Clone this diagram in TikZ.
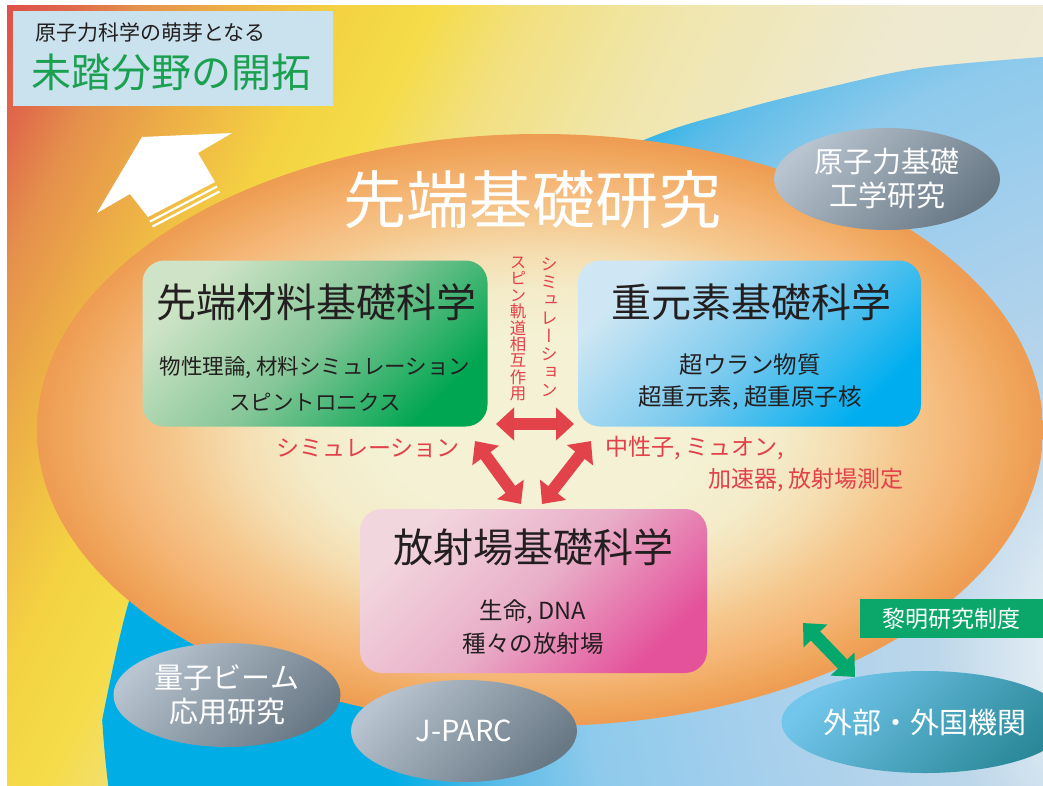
\documentclass[tikz,border=0pt]{standalone}
\usepackage{fontspec}
\setmainfont{Noto Sans CJK JP}
\newfontfamily\vfont[RawFeature=+vert]{Noto Sans CJK JP}
\usepackage{graphicx}
\usetikzlibrary{shapes.geometric,arrows.meta}

\definecolor{ink}{HTML}{231F20}
\definecolor{tgreen}{HTML}{1AA050}
\definecolor{tbox}{HTML}{C9E2EE}
\definecolor{lab}{HTML}{E2404A}
\definecolor{arr}{HTML}{E2434B}
\definecolor{garr}{HTML}{05A86C}
\definecolor{gbox}{HTML}{0AA66A}
% background
\definecolor{bgA}{HTML}{DD5049}
\definecolor{bgB}{HTML}{E06A4A}
\definecolor{bgC}{HTML}{E5904C}
\definecolor{bgD}{HTML}{EDB046}
\definecolor{bgE}{HTML}{F4D242}
\definecolor{bgF}{HTML}{F5DC48}
\definecolor{bgG}{HTML}{F2E080}
\definecolor{bgH}{HTML}{F0E6AC}
\definecolor{bgI}{HTML}{EEE9CF}
\definecolor{bgJ}{HTML}{EEEBDD}
% blue
\definecolor{blA}{HTML}{EEF2F5}
\definecolor{blB}{HTML}{E2ECF3}
\definecolor{blC}{HTML}{BDD7EA}
\definecolor{blD}{HTML}{A8D0EC}
\definecolor{blE}{HTML}{8ECAEC}
\definecolor{blF}{HTML}{5CBCE8}
\definecolor{blG}{HTML}{28B2E6}
\definecolor{blH}{HTML}{00AEE5}
% ellipse
\definecolor{eA}{HTML}{F4F1D4}
\definecolor{eB}{HTML}{F4EBC8}
\definecolor{eC}{HTML}{F5DDB0}
\definecolor{eD}{HTML}{F5C88E}
\definecolor{eE}{HTML}{F5B676}
\definecolor{eF}{HTML}{F0A65C}
\definecolor{eG}{HTML}{EE9C52}
% boxes
\definecolor{grA}{HTML}{CFE4C6}
\definecolor{grM}{HTML}{86C698}
\definecolor{grB}{HTML}{00A651}
\definecolor{buA}{HTML}{CFE7F4}
\definecolor{buM}{HTML}{7CCAEE}
\definecolor{buB}{HTML}{00AEEF}
\definecolor{pkA}{HTML}{F2D6DE}
\definecolor{pkM}{HTML}{E9AFC8}
\definecolor{pkB}{HTML}{E4529C}
\definecolor{gyA}{HTML}{B8C4D0}
\definecolor{gyB}{HTML}{687884}
\definecolor{tlA}{HTML}{72C6EC}
\definecolor{tlB}{HTML}{2A8898}

\pgfdeclarehorizontalshading{bggrad}{100bp}{color(0bp)=(bgA); color(25bp)=(bgA); color(27.3bp)=(bgB); color(29.5bp)=(bgC); color(32.8bp)=(bgD); color(36.6bp)=(bgE); color(39.7bp)=(bgF); color(43.2bp)=(bgG); color(48.3bp)=(bgH); color(56bp)=(bgI); color(75bp)=(bgJ); color(100bp)=(bgJ)}
\pgfdeclareradialshading{bluesh}{\pgfpoint{0bp}{0bp}}{color(0bp)=(blA); color(3.5bp)=(blB); color(6bp)=(blC); color(10bp)=(blD); color(14bp)=(blE); color(16.2bp)=(blF); color(17.5bp)=(blG); color(18.6bp)=(blH); color(25bp)=(blH); color(50bp)=(blH)}
\pgfdeclareradialshading{ellsh}{\pgfpoint{0bp}{0bp}}{color(0bp)=(eA); color(8bp)=(eA); color(12bp)=(eB); color(15bp)=(eC); color(18bp)=(eD); color(21bp)=(eE); color(23.5bp)=(eF); color(25bp)=(eG); color(50bp)=(eG)}

\begin{document}
\begin{tikzpicture}[x=1pt,y=-1pt,
  box/.style={rounded corners=22pt, minimum width=345pt, minimum height=166pt, inner sep=0pt},
  greenbox/.style={box, top color=grA, bottom color=grB, middle color=grM, shading angle=45},
  bluebox/.style={box, top color=buA, bottom color=buB, middle color=buM, shading angle=45},
  pinkbox/.style={box, top color=pkA, bottom color=pkB, middle color=pkM, shading angle=45},
  ttl/.style={font=\fontsize{40}{40}\selectfont, text=ink, inner sep=0pt},
  sub/.style={font=\fontsize{23.5}{33}\selectfont, text=ink, inner sep=0pt},
  gell/.style={ellipse, minimum width=226pt, minimum height=102pt, inner sep=0pt,
     top color=gyA, bottom color=gyB, shading angle=45, text=white, align=center,
     font=\fontsize{29}{34}\selectfont},
  redarrow/.style={draw=arr, line width=12pt, {Triangle[width=32pt,length=18pt]}-{Triangle[width=32pt,length=18pt]}},
  greenarrow/.style={draw=garr, line width=13pt, {Triangle[width=32pt,length=18pt]}-{Triangle[width=32pt,length=18pt]}},
  redlbl/.style={text=lab, font=\fontsize{23}{23}\selectfont, inner sep=0pt},
  vlbl/.style={text=lab, align=center, inner sep=0pt},
]
\useasboundingbox (0,0) rectangle (1043,785);
\fill[white] (0,0) rectangle (1043,785);

\begin{scope}
  \clip (7,5) rectangle (1043,785);
  \begin{scope}[overlay, transform canvas={rotate around={-26.565:(7,5)}}]
    \shade[shading=bggrad] (7,-475) rectangle (1297,725);
  \end{scope}
  \begin{scope}
    \clip (1060,57) -- plot[smooth,tension=0.55] coordinates {(1043,57) (921,68) (830,87) (739,110) (639,142) (450,232) (300,345) (190,470) (130,598) (90,785)} -- (80,800) -- (1060,800) -- cycle;
    \shade[shading=bluesh] (1200,650) circle[radius=1100pt];
  \end{scope}
  \shade[shading=ellsh] (540,430) ellipse [x radius=503pt, y radius=296pt];
\end{scope}

% white arrow
\fill[white] (97,213) -- (142,137) -- (232,133) -- (198,153) -- (215,182) -- (148,217) -- (130,194) -- cycle;
\draw[white, line width=2.2pt] (217,186.5) -- (150,221.5);
\draw[white, line width=2.2pt] (219.5,191.5) -- (152.5,226.5);

% title box
\node[fill=tbox, minimum width=320.5pt, minimum height=95pt, inner sep=0pt] (tb) at (172.8,58.5) {};
\node[font=\fontsize{21}{21}\selectfont, text=ink, anchor=west, inner sep=0pt] (tb1) at (35,33) {原子力科学の萌芽となる};
\node[font=\fontsize{40}{40}\selectfont, text=tgreen, anchor=west, inner sep=0pt] (tb2) at (31,72) {未踏分野の開拓};

% main title
\node[font=\fontsize{63}{63}\selectfont, text=white, inner sep=0pt] (main) at (532,200) {先端基礎研究};

% gray ellipses
\node[gell] (kiso) at (887,179) {原子力基礎\\工学研究};
\node[gell, minimum width=227pt, minimum height=104pt] (beam) at (227,695) {量子ビーム\\応用研究};
\node[gell] (jparc) at (464,731) {J-PARC};
\node[gell, minimum width=225pt, top color=tlA, bottom color=tlB, shading angle=45] (gaibu) at (925,722) {外部・外国機関};

% boxes
\node[greenbox] (mat) at (315,343.5) {};
\node[bluebox, minimum width=343pt] (heavy) at (749.5,343.5) {};
\node[pinkbox, minimum width=347pt, minimum height=164pt] (rad) at (533.5,591) {};

\node[ttl] (matT) at (316,302) {先端材料基礎科学};
\node[sub, font=\fontsize{21.5}{21.5}\selectfont] (matS1) at (315,368) {物性理論, 材料シミュレーション};
\node[sub, font=\fontsize{21.5}{21.5}\selectfont] (matS2) at (315,402) {スピントロニクス};

\node[ttl] (heavyT) at (751,302) {重元素基礎科学};
\node[sub] (heavyS1) at (750,365) {超ウラン物質};
\node[sub] (heavyS2) at (750,398) {超重元素, 超重原子核};

\node[ttl] (radT) at (533,547) {放射場基礎科学};
\node[sub] (radS1) at (533,612) {生命, DNA};
\node[sub] (radS2) at (533,644) {種々の放射場};

% vertical labels
\node[vlbl, font={\vfont\fontsize{16.4}{16.4}\selectfont\lineskiplimit=-50pt}] (v1) at (518,329) {ス\\ピ\\ン\\軌\\道\\相\\互\\作\\用};
\node[vlbl, font={\vfont\fontsize{17}{17.9}\selectfont\lineskiplimit=-50pt}] (v2) at (549,327) {シ\\ミ\\ュ\\レ\\ー\\シ\\ョ\\ン};

% red arrows
\coordinate (h1) at (496,424);
\coordinate (h2) at (574,424);
\coordinate (d1) at (475,441);
\coordinate (d2) at (521,504);
\coordinate (d3) at (591,441);
\coordinate (d4) at (542,504);
\draw[redarrow] (h1) -- (h2);
\draw[redarrow] (d1) -- (d2);
\draw[redarrow] (d3) -- (d4);

% red labels
\node[redlbl, anchor=east] (l1) at (460,448) {シミュレーション};
\node[redlbl, anchor=west] (l2) at (605,448) {中性子, ミュオン,};
\node[redlbl, anchor=east] (l3) at (904,480) {加速器, 放射場測定};

% reimei
\node[fill=gbox, minimum width=183pt, minimum height=39pt, inner sep=0pt, text=white, font=\fontsize{23}{23}\selectfont] (reimei) at (951.5,618.5) {黎明研究制度};
\coordinate (g1) at (803,623);
\coordinate (g2) at (855,677);
\draw[greenarrow] (g1) -- (g2);
\end{tikzpicture}
\end{document}
